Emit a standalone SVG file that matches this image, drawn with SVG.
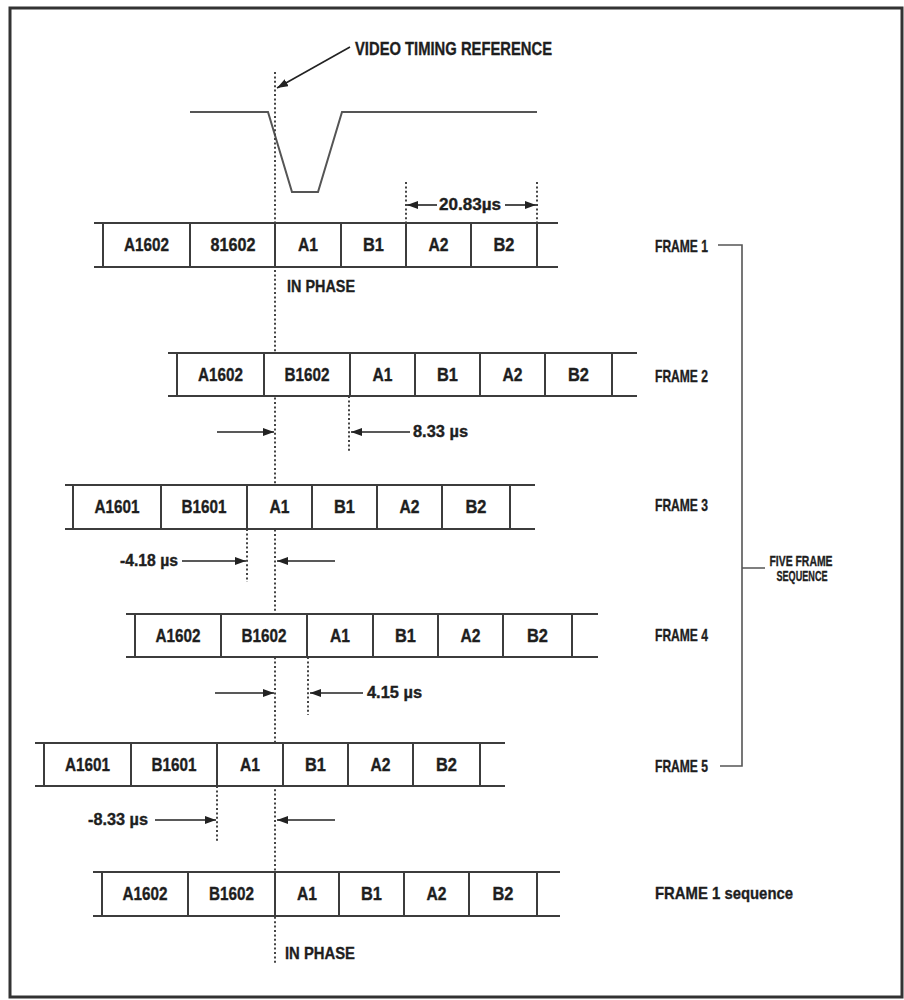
<svg xmlns="http://www.w3.org/2000/svg" width="904" height="1000" viewBox="0 0 904 1000">
<defs>
<marker id="ah" markerUnits="userSpaceOnUse" markerWidth="12" markerHeight="8" refX="11" refY="4" orient="auto">
<path d="M0,0 L11,4 L0,8 z" fill="#222"/>
</marker>
<style>
.t{font-family:"Liberation Sans",Arial,sans-serif;font-weight:bold;fill:#1e1e1e;stroke:#1e1e1e;stroke-width:0.35}
.c{font-size:18px;text-anchor:middle}
.lab{font-size:17px}
.dim{font-size:16px}
.row line{stroke:#3c3c3c;stroke-width:2}
.cell{fill:#fff}
.dot{stroke:#444;stroke-width:2;stroke-dasharray:2 2.4;fill:none}
.arr{stroke:#222;stroke-width:1.6;fill:none;marker-end:url(#ah)}
.wave{stroke:#555;stroke-width:2;fill:none}
.br{stroke:#555;stroke-width:1.6;fill:none}
</style>
</defs>
<rect x="0" y="0" width="904" height="1000" fill="#fff"/>
<rect id="border" x="10" y="8" width="892" height="989" fill="none" stroke="#333" stroke-width="3"/>

<g id="waveform">
<path class="wave" d="M190,112 H268 L292,192 H318 L342,112 H537"/>
</g>

<g id="connectors">
<line class="dot" x1="275" y1="72" x2="275" y2="965"/>
<line class="dot" x1="406" y1="182" x2="406" y2="223"/>
<line class="dot" x1="537" y1="182" x2="537" y2="223"/>
<line class="dot" x1="349" y1="396" x2="349" y2="453"/>
<line class="dot" x1="247" y1="529" x2="247" y2="582"/>
<line class="dot" x1="308" y1="657" x2="308" y2="715"/>
<line class="dot" x1="217" y1="786" x2="217" y2="842"/>
<line class="arr" x1="350" y1="47" x2="277" y2="88"/>
<line class="arr" x1="437" y1="205" x2="407" y2="205"/>
<line class="arr" x1="505" y1="205" x2="536" y2="205"/>
<line class="arr" x1="217" y1="432" x2="274" y2="432"/>
<line class="arr" x1="410" y1="432" x2="351" y2="432"/>
<line class="arr" x1="182" y1="561" x2="246" y2="561"/>
<line class="arr" x1="335" y1="561" x2="277" y2="561"/>
<line class="arr" x1="215" y1="693" x2="274" y2="693"/>
<line class="arr" x1="363" y1="693" x2="310" y2="693"/>
<line class="arr" x1="155" y1="820" x2="216" y2="820"/>
<line class="arr" x1="335" y1="820" x2="277" y2="820"/>
<path class="br" d="M718,245 H742 V766 H720 M742,568 H765"/>
</g>

<g id="labels-top">
<text class="t" x="355" y="55" font-size="18" textLength="197" lengthAdjust="spacingAndGlyphs">VIDEO TIMING REFERENCE</text>
<text class="t dim" x="439" y="210" textLength="62" lengthAdjust="spacingAndGlyphs">20.83µs</text>
<text class="t" x="287" y="292" font-size="17" textLength="68" lengthAdjust="spacingAndGlyphs">IN PHASE</text>
</g>

<g id="frame1" class="row">
<rect class="cell" x="103" y="223" width="434" height="44"/>
<line x1="94" y1="223" x2="558" y2="223"/><line x1="94" y1="267" x2="558" y2="267"/>
<line x1="103" y1="223" x2="103" y2="267"/><line x1="190" y1="223" x2="190" y2="267"/><line x1="275" y1="223" x2="275" y2="267"/><line x1="341" y1="223" x2="341" y2="267"/><line x1="406" y1="223" x2="406" y2="267"/><line x1="471" y1="223" x2="471" y2="267"/><line x1="537" y1="223" x2="537" y2="267"/>
<text class="t c" x="146.5" y="251" textLength="45" lengthAdjust="spacingAndGlyphs">A1602</text>
<text class="t c" x="233" y="251" textLength="45" lengthAdjust="spacingAndGlyphs">81602</text>
<text class="t c" x="308" y="251" textLength="20" lengthAdjust="spacingAndGlyphs">A1</text>
<text class="t c" x="373.5" y="251" textLength="21" lengthAdjust="spacingAndGlyphs">B1</text>
<text class="t c" x="438.5" y="251" textLength="20" lengthAdjust="spacingAndGlyphs">A2</text>
<text class="t c" x="504" y="251" textLength="21" lengthAdjust="spacingAndGlyphs">B2</text>
<text class="t lab" x="655" y="252" textLength="53" lengthAdjust="spacingAndGlyphs">FRAME 1</text>
</g>

<g id="frame2" class="row">
<rect class="cell" x="177" y="353" width="435" height="43"/>
<line x1="168" y1="353" x2="637" y2="353"/><line x1="168" y1="396" x2="637" y2="396"/>
<line x1="177" y1="353" x2="177" y2="396"/><line x1="264" y1="353" x2="264" y2="396"/><line x1="350" y1="353" x2="350" y2="396"/><line x1="415" y1="353" x2="415" y2="396"/><line x1="480" y1="353" x2="480" y2="396"/><line x1="545" y1="353" x2="545" y2="396"/><line x1="612" y1="353" x2="612" y2="396"/>
<text class="t c" x="220.5" y="381" textLength="45" lengthAdjust="spacingAndGlyphs">A1602</text>
<text class="t c" x="307" y="381" textLength="45" lengthAdjust="spacingAndGlyphs">B1602</text>
<text class="t c" x="382.5" y="381" textLength="20" lengthAdjust="spacingAndGlyphs">A1</text>
<text class="t c" x="447.5" y="381" textLength="21" lengthAdjust="spacingAndGlyphs">B1</text>
<text class="t c" x="512.5" y="381" textLength="20" lengthAdjust="spacingAndGlyphs">A2</text>
<text class="t c" x="578.5" y="381" textLength="21" lengthAdjust="spacingAndGlyphs">B2</text>
<text class="t lab" x="655" y="382" textLength="53" lengthAdjust="spacingAndGlyphs">FRAME 2</text>
<text class="t dim" x="413" y="437" textLength="55" lengthAdjust="spacingAndGlyphs">8.33 µs</text>
</g>

<g id="frame3" class="row">
<rect class="cell" x="73" y="485" width="437" height="44"/>
<line x1="65" y1="485" x2="535" y2="485"/><line x1="65" y1="529" x2="535" y2="529"/>
<line x1="73" y1="485" x2="73" y2="529"/><line x1="161" y1="485" x2="161" y2="529"/><line x1="247" y1="485" x2="247" y2="529"/><line x1="312" y1="485" x2="312" y2="529"/><line x1="377" y1="485" x2="377" y2="529"/><line x1="442" y1="485" x2="442" y2="529"/><line x1="510" y1="485" x2="510" y2="529"/>
<text class="t c" x="117" y="513" textLength="45" lengthAdjust="spacingAndGlyphs">A1601</text>
<text class="t c" x="204" y="513" textLength="45" lengthAdjust="spacingAndGlyphs">B1601</text>
<text class="t c" x="279.5" y="513" textLength="20" lengthAdjust="spacingAndGlyphs">A1</text>
<text class="t c" x="344.5" y="513" textLength="21" lengthAdjust="spacingAndGlyphs">B1</text>
<text class="t c" x="409.5" y="513" textLength="20" lengthAdjust="spacingAndGlyphs">A2</text>
<text class="t c" x="476" y="513" textLength="21" lengthAdjust="spacingAndGlyphs">B2</text>
<text class="t lab" x="655" y="511" textLength="53" lengthAdjust="spacingAndGlyphs">FRAME 3</text>
<text class="t dim" x="120" y="566" textLength="58" lengthAdjust="spacingAndGlyphs">-4.18 µs</text>
</g>

<g id="frame4" class="row">
<rect class="cell" x="135" y="614" width="437" height="43"/>
<line x1="126" y1="614" x2="598" y2="614"/><line x1="126" y1="657" x2="598" y2="657"/>
<line x1="135" y1="614" x2="135" y2="657"/><line x1="221" y1="614" x2="221" y2="657"/><line x1="307" y1="614" x2="307" y2="657"/><line x1="373" y1="614" x2="373" y2="657"/><line x1="438" y1="614" x2="438" y2="657"/><line x1="503" y1="614" x2="503" y2="657"/><line x1="572" y1="614" x2="572" y2="657"/>
<text class="t c" x="178" y="642" textLength="45" lengthAdjust="spacingAndGlyphs">A1602</text>
<text class="t c" x="264" y="642" textLength="45" lengthAdjust="spacingAndGlyphs">B1602</text>
<text class="t c" x="340" y="642" textLength="20" lengthAdjust="spacingAndGlyphs">A1</text>
<text class="t c" x="405.5" y="642" textLength="21" lengthAdjust="spacingAndGlyphs">B1</text>
<text class="t c" x="470.5" y="642" textLength="20" lengthAdjust="spacingAndGlyphs">A2</text>
<text class="t c" x="537.5" y="642" textLength="21" lengthAdjust="spacingAndGlyphs">B2</text>
<text class="t lab" x="655" y="641" textLength="53" lengthAdjust="spacingAndGlyphs">FRAME 4</text>
<text class="t dim" x="367" y="698" textLength="55" lengthAdjust="spacingAndGlyphs">4.15 µs</text>
</g>

<g id="frame5" class="row">
<rect class="cell" x="44" y="743" width="436" height="43"/>
<line x1="35" y1="743" x2="505" y2="743"/><line x1="35" y1="786" x2="505" y2="786"/>
<line x1="44" y1="743" x2="44" y2="786"/><line x1="131" y1="743" x2="131" y2="786"/><line x1="217" y1="743" x2="217" y2="786"/><line x1="283" y1="743" x2="283" y2="786"/><line x1="348" y1="743" x2="348" y2="786"/><line x1="413" y1="743" x2="413" y2="786"/><line x1="480" y1="743" x2="480" y2="786"/>
<text class="t c" x="87.5" y="771" textLength="45" lengthAdjust="spacingAndGlyphs">A1601</text>
<text class="t c" x="174" y="771" textLength="45" lengthAdjust="spacingAndGlyphs">B1601</text>
<text class="t c" x="250" y="771" textLength="20" lengthAdjust="spacingAndGlyphs">A1</text>
<text class="t c" x="315.5" y="771" textLength="21" lengthAdjust="spacingAndGlyphs">B1</text>
<text class="t c" x="380.5" y="771" textLength="20" lengthAdjust="spacingAndGlyphs">A2</text>
<text class="t c" x="446.5" y="771" textLength="21" lengthAdjust="spacingAndGlyphs">B2</text>
<text class="t lab" x="655" y="772" textLength="53" lengthAdjust="spacingAndGlyphs">FRAME 5</text>
<text class="t dim" x="88" y="825" textLength="60" lengthAdjust="spacingAndGlyphs">-8.33 µs</text>
</g>

<g id="frame1-sequence" class="row">
<rect class="cell" x="102" y="872" width="435" height="44"/>
<line x1="93" y1="872" x2="560" y2="872"/><line x1="93" y1="916" x2="560" y2="916"/>
<line x1="102" y1="872" x2="102" y2="916"/><line x1="188" y1="872" x2="188" y2="916"/><line x1="275" y1="872" x2="275" y2="916"/><line x1="339" y1="872" x2="339" y2="916"/><line x1="404" y1="872" x2="404" y2="916"/><line x1="469" y1="872" x2="469" y2="916"/><line x1="537" y1="872" x2="537" y2="916"/>
<text class="t c" x="145" y="900" textLength="45" lengthAdjust="spacingAndGlyphs">A1602</text>
<text class="t c" x="231.5" y="900" textLength="45" lengthAdjust="spacingAndGlyphs">B1602</text>
<text class="t c" x="307" y="900" textLength="20" lengthAdjust="spacingAndGlyphs">A1</text>
<text class="t c" x="371.5" y="900" textLength="21" lengthAdjust="spacingAndGlyphs">B1</text>
<text class="t c" x="436.5" y="900" textLength="20" lengthAdjust="spacingAndGlyphs">A2</text>
<text class="t c" x="503" y="900" textLength="21" lengthAdjust="spacingAndGlyphs">B2</text>
<text class="t lab" x="655" y="899" font-size="16" textLength="138" lengthAdjust="spacingAndGlyphs">FRAME 1 sequence</text>
<text class="t" x="285" y="959" font-size="17" textLength="70" lengthAdjust="spacingAndGlyphs">IN PHASE</text>
</g>

<g id="five-frame-sequence">
<text class="t" x="801" y="566" font-size="15" text-anchor="middle" textLength="63" lengthAdjust="spacingAndGlyphs">FIVE FRAME</text>
<text class="t" x="802" y="581" font-size="15" text-anchor="middle" textLength="51" lengthAdjust="spacingAndGlyphs">SEQUENCE</text>
</g>
</svg>
